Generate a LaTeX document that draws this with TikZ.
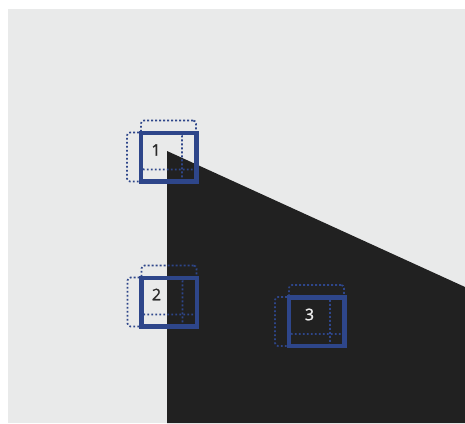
\documentclass[tikz,border=0pt]{standalone}
\usepackage{fontspec}
\newfontfamily\tagfont{Open Sans}[FakeBold=1.3]
\usetikzlibrary{
  positioning,
  calc
}
\definecolor{paper}{HTML}{E9EAEA}
\definecolor{wedge}{HTML}{212121}
\definecolor{frame}{HTML}{2E468A}
\definecolor{ink}{HTML}{2A2A2A}
\definecolor{chalk}{HTML}{EDEDED}
\tikzset{
  spotbox/.style={
    draw=frame,
    line width=3pt,
    minimum width=54pt,
    minimum height=47pt,
    inner sep=0pt
  },
  ghostbox/.style={
    draw=frame,
    line width=1.7pt,
    dash pattern=on 1.8pt off 2.2pt,
    rounded corners=3pt,
    minimum width=55pt,
    minimum height=49pt,
    inner sep=0pt
  },
  tag/.style={
    font=\tagfont\fontsize{16}{18}\selectfont,
    text=ink,
    inner sep=0pt
  }
}

\begin{document}
\begin{tikzpicture}[x=1pt, y=-1pt]
  \useasboundingbox (0,0) rectangle (465,423);
  % background and dark wedge
  \fill[paper] (8,9) rectangle (465,423);
  \fill[wedge] (167,151) -- (465,287) -- (465,423) -- (167,423) -- cycle;

  % solid frames
  \node[spotbox] (b1) at (168.5,157) {};
  \node[spotbox] (b2) at (169,302) {};
  \node[spotbox] (b3) at (316.5,321.5) {};

  % dotted copies, shifted up and left
  \foreach \b in {b1,b2,b3} {
    \node[ghostbox] (\b up) at ([yshift=12pt]\b) {};
    \node[ghostbox] (\b left) at ([xshift=-14pt]\b) {};
  }

  % redraw frames on top
  \foreach \b in {b1,b2,b3}
    \draw[frame, line width=3pt] (\b.north west) rectangle (\b.south east);

  \node[tag] (t1) at (156,150) {1};
  \node[tag] (t2) at (156.5,294.5) {2};
  \node[tag, text=chalk] (t3) at (309.5,314.5) {3};
\end{tikzpicture}
\end{document}
